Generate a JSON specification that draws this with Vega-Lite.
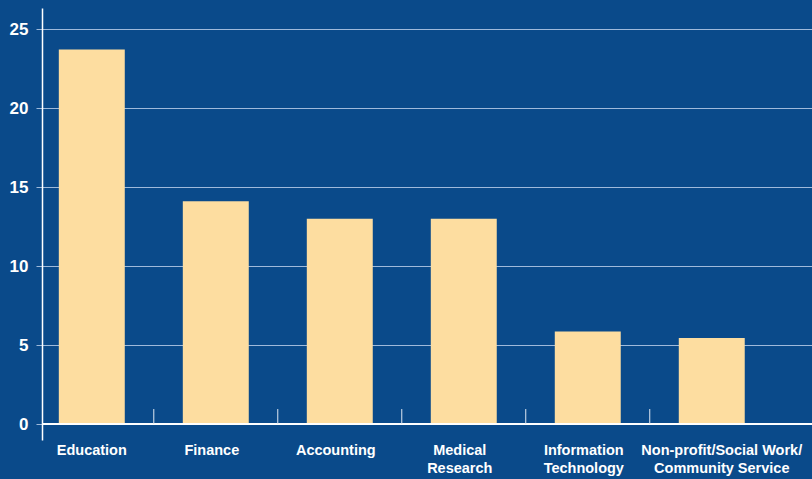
{
  "$schema": "https://vega.github.io/schema/vega-lite/v6.json",
  "width": 770,
  "height": 432,
  "autosize": {"type": "none"},
  "padding": {"left": 42, "top": 8, "right": 0, "bottom": 39},
  "background": "#0a4a8a",
  "config": {"view": {"stroke": null}, "font": "Liberation Sans"},
  "data": {
    "values": [
      {"field": "Education", "percent": 23.7},
      {"field": "Finance", "percent": 14.1},
      {"field": "Accounting", "percent": 13.0},
      {"field": "Medical Research", "percent": 13.0},
      {"field": "Information Technology", "percent": 5.85},
      {"field": "Non-profit/Social Work/Community Service", "percent": 5.45}
    ]
  },
  "layer": [
    {
      "mark": {"type": "bar", "color": "#fddda0"},
      "encoding": {
        "x": {
          "field": "field",
          "type": "nominal",
          "sort": null,
          "scale": {"paddingInner": 0.468, "paddingOuter": 0.339, "align": 0.2},
          "axis": {
            "title": null,
            "domain": false,
            "ticks": false,
            "labelColor": "#ffffff",
            "labelFontSize": 14.5,
            "labelFontWeight": "bold",
            "labelPadding": 3,
            "labelAngle": 0,
            "labelLineHeight": 18,
            "labelOverlap": false,
            "labelBound": false,
            "labelLimit": 0,
            "labelOffset": {"condition": [{"test": "datum.value == 'Non-profit/Social Work/Community Service'", "value": 10}, {"test": "datum.value == 'Education'", "value": 0}], "value": -4},
            "labelExpr": "datum.value == 'Medical Research' ? ['Medical', 'Research'] : datum.value == 'Information Technology' ? ['Information', 'Technology'] : datum.value == 'Non-profit/Social Work/Community Service' ? ['Non-profit/Social Work/', 'Community Service'] : datum.label"
          }
        },
        "y": {
          "field": "percent",
          "type": "quantitative",
          "scale": {"domain": [-1.01, 26.33], "nice": false, "zero": false},
          "axis": {
            "title": null,
            "values": [0, 5, 10, 15, 20, 25],
            "domainColor": "#ffffff",
            "domainWidth": 1.5,
            "gridColor": "#9fbadb",
            "gridWidth": 1,
            "tickColor": "#9fbadb",
            "tickSize": 6,
            "labelColor": "#ffffff",
            "labelFontSize": 17,
            "labelFontWeight": "bold",
            "labelPadding": 8,
            "labelBaseline": "middle"
          }
        }
      }
    },
    {
      "mark": {"type": "rule", "color": "#ffffff", "strokeWidth": 1.5},
      "encoding": {"y": {"datum": 0}}
    },
    {
      "transform": [{"filter": "datum.field != 'Education'"}],
      "mark": {"type": "rule", "color": "#e0e8f2", "strokeWidth": 1},
      "encoding": {
        "x": {"field": "field", "type": "nominal", "sort": null, "bandPosition": -0.44},
        "y": {"datum": 0},
        "y2": {"datum": 0.95}
      }
    }
  ]
}
